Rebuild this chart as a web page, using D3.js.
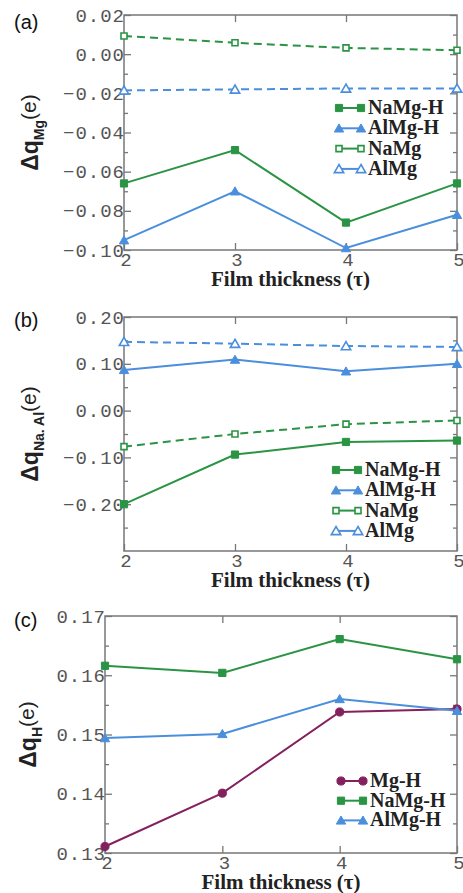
<!DOCTYPE html>
<html>
<head>
<meta charset="utf-8">
<script src="https://cdn.jsdelivr.net/npm/d3@7"></script>
<style>
  body { margin: 0; background: #fff; }
  .tick text { font-family: "Liberation Mono", monospace; fill: #555; letter-spacing: 1px; }
  .tick line { stroke: #777; }
</style>
</head>
<body>
<script>
// film thickness on x
const thickness = [2, 3, 4, 5];

// (a) Mg charge change
const aTicks = [-0.10, -0.08, -0.06, -0.04, -0.02, 0.00, 0.02];
const aMinor = [-0.09, -0.07, -0.05, -0.03, -0.01, 0.01];
const aNaMgH = [-0.066, -0.049, -0.086, -0.066];
const aAlMgH = [-0.095, -0.070, -0.099, -0.082];
const aNaMg = [0.0093, 0.0058, 0.0032, 0.0020];
const aAlMg = [-0.0185, -0.0180, -0.0175, -0.0175];

// (b) Na / Al charge change
const bTicks = [-0.20, -0.10, 0.00, 0.10, 0.20];
const bMinor = [-0.25, -0.15, -0.05, 0.05, 0.15];
const bNaMgH = [-0.200, -0.094, -0.067, -0.064];
const bAlMgH = [0.087, 0.109, 0.084, 0.100];
const bNaMg = [-0.077, -0.050, -0.029, -0.021];
const bAlMg = [0.147, 0.143, 0.138, 0.136];

// (c) H charge change
const cTicks = [0.13, 0.14, 0.15, 0.16, 0.17];
const cMinor = [0.135, 0.145, 0.155, 0.165];
const cMgH = [0.1311, 0.1401, 0.1538, 0.1543];
const cNaMgH = [0.1616, 0.1604, 0.1661, 0.1627];
const cAlMgH = [0.1494, 0.1501, 0.1560, 0.1540];

const legendAB = ["NaMg-H", "AlMg-H", "NaMg", "AlMg"];
const legendC = ["Mg-H", "NaMg-H", "AlMg-H"];

const green = "#2a9444";
const blue = "#4b8fdc";
const purple = "#84205e";
const frameColor = "#777";

const svg = d3.select("body").append("svg")
    .attr("width", 463)
    .attr("height", 893);

function marker(g, shape, x, y, color, hollow) {
    const sym = {square: d3.symbolSquare, triangle: d3.symbolTriangle, circle: d3.symbolCircle}[shape];
    const size = shape == "triangle" ? 38 : (hollow ? 36 : 52);
    g.append("path")
        .attr("d", d3.symbol(sym).size(size)())
        .attr("transform", "translate(" + x + "," + (shape == "triangle" ? y + 1 : y) + ")")
        .attr("fill", hollow ? "#fff" : color)
        .attr("stroke", color)
        .attr("stroke-width", hollow ? 1.6 : 1);
}

function drawPanel(p) {
    const g = svg.append("g");
    const x = d3.scaleLinear().domain([2, 5]).range([p.left, p.right]);
    const y = d3.scaleLinear().domain(p.domain).range([p.bottom, p.top]);

    // frame
    g.append("rect")
        .attr("x", p.left).attr("y", p.top)
        .attr("width", p.right - p.left).attr("height", p.bottom - p.top)
        .attr("fill", "none").attr("stroke", frameColor).attr("stroke-width", 1.5);

    // left axis with labels
    const yl = g.append("g")
        .attr("transform", "translate(" + p.left + ",0)")
        .call(d3.axisLeft(y).tickValues(p.ticks).tickSize(-7).tickPadding(-1)
            .tickFormat(d => d.toFixed(2).replace("-", "\u2212")));
    yl.selectAll("text").attr("font-size", 19);
    g.append("g").attr("transform", "translate(" + p.left + ",0)")
        .call(d3.axisLeft(y).tickValues(p.minor).tickSize(-4).tickFormat(""));
    g.append("g").attr("transform", "translate(" + p.right + ",0)")
        .call(d3.axisRight(y).tickValues(p.ticks).tickSize(-7).tickFormat(""));
    g.append("g").attr("transform", "translate(" + p.right + ",0)")
        .call(d3.axisRight(y).tickValues(p.minor).tickSize(-4).tickFormat(""));

    // bottom + top
    const xb = g.append("g")
        .attr("transform", "translate(0," + p.bottom + ")")
        .call(d3.axisBottom(x).tickValues(thickness).tickSize(-7).tickPadding(2).tickFormat(d3.format("d")));
    xb.selectAll("text").attr("font-size", 19).attr("dx", 2);
    g.append("g").attr("transform", "translate(0," + p.top + ")")
        .call(d3.axisTop(x).tickValues([3, 4]).tickSize(-7).tickFormat(""));

    g.selectAll(".domain").remove();
    g.selectAll(".tick line").attr("stroke", frameColor).attr("stroke-width", 1.3);

    // series
    const line = d3.line().x((d, i) => x(thickness[i])).y(d => y(d));
    p.series.forEach(s => {
        g.append("path")
            .attr("d", line(s.values))
            .attr("fill", "none")
            .attr("stroke", s.color)
            .attr("stroke-width", 2)
            .attr("stroke-dasharray", s.dashed ? "8,5" : null);
        s.values.forEach((v, i) => marker(g, s.shape, x(thickness[i]), y(v), s.color, s.hollow));
    });

    // legend
    p.series.forEach((s, i) => {
        const ly = p.legY + i * p.legStep;
        g.append("line")
            .attr("x1", p.legX).attr("x2", p.legX + 22)
            .attr("y1", ly).attr("y2", ly)
            .attr("stroke", s.color).attr("stroke-width", 2);
        marker(g, s.shape, p.legX, ly, s.color, s.hollow);
        marker(g, s.shape, p.legX + 22, ly, s.color, s.hollow);
        g.append("text")
            .attr("x", p.legX + 29).attr("y", ly + 6)
            .attr("font-family", "Liberation Serif, serif")
            .attr("font-weight", "bold")
            .attr("font-size", 20)
            .attr("fill", "#222")
            .text(p.legend[i]);
    });

    // x title
    g.append("text")
        .attr("x", (p.left + p.right) / 2).attr("y", p.bottom + 36)
        .attr("text-anchor", "middle")
        .attr("font-family", "Liberation Serif, serif")
        .attr("font-weight", "bold")
        .attr("font-size", 21)
        .attr("fill", "#222")
        .text("Film thickness (τ)");

    // y title
    const yt = g.append("text")
        .attr("transform", "translate(" + p.titleX + "," + (p.top + p.bottom) / 2 + ") rotate(-90)")
        .attr("text-anchor", "middle")
        .attr("font-family", "Liberation Sans, Arial, sans-serif")
        .attr("font-weight", "bold")
        .attr("fill", "#222");
    yt.append("tspan").attr("font-size", 23).text("Δq");
    yt.append("tspan").attr("font-size", 14).attr("dy", 6).text(p.sub);
    yt.append("tspan").attr("font-size", 21).attr("font-weight", "normal").attr("dy", -8).text("(e)");

    // panel letter
    g.append("text")
        .attr("x", 14).attr("y", p.letterY)
        .attr("font-family", "Liberation Sans, Arial, sans-serif")
        .attr("font-size", 20)
        .attr("fill", "#111")
        .text(p.letter);
}

drawPanel({
    left: 124, right: 457, top: 15, bottom: 250,
    domain: [-0.10, 0.02], ticks: aTicks, minor: aMinor,
    series: [
        {values: aNaMgH, color: green, shape: "square"},
        {values: aAlMgH, color: blue, shape: "triangle"},
        {values: aNaMg, color: green, shape: "square", hollow: true, dashed: true},
        {values: aAlMg, color: blue, shape: "triangle", hollow: true, dashed: true}
    ],
    legend: legendAB, legX: 339, legY: 108, legStep: 20.3,
    sub: "Mg", titleX: 38, letter: "(a)", letterY: 29
});

drawPanel({
    left: 124, right: 457, top: 317, bottom: 551,
    domain: [-0.30, 0.20], ticks: bTicks, minor: bMinor,
    series: [
        {values: bNaMgH, color: green, shape: "square"},
        {values: bAlMgH, color: blue, shape: "triangle"},
        {values: bNaMg, color: green, shape: "square", hollow: true, dashed: true},
        {values: bAlMg, color: blue, shape: "triangle", hollow: true, dashed: true}
    ],
    legend: legendAB, legX: 336, legY: 470, legStep: 20.3,
    sub: "Na. Al", titleX: 38, letter: "(b)", letterY: 327
});

drawPanel({
    left: 105, right: 457, top: 616, bottom: 853,
    domain: [0.13, 0.17], ticks: cTicks, minor: cMinor,
    series: [
        {values: cMgH, color: purple, shape: "circle"},
        {values: cNaMgH, color: green, shape: "square"},
        {values: cAlMgH, color: blue, shape: "triangle"}
    ],
    legend: legendC, legX: 341, legY: 781, legStep: 19.7,
    sub: "H", titleX: 36, letter: "(c)", letterY: 627
});
</script>
</body>
</html>
